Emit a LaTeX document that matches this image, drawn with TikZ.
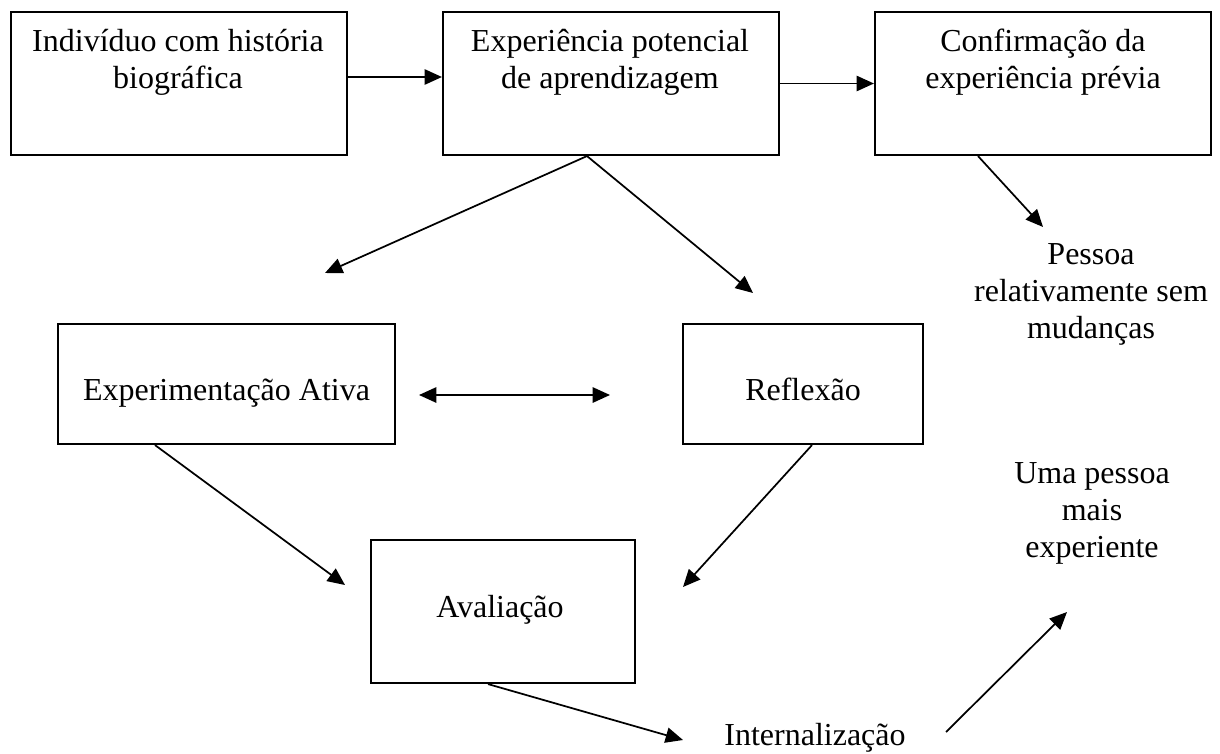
\documentclass[tikz,border=0pt]{standalone}
\usepackage{fontspec}
\setmainfont{Liberation Serif}
\usetikzlibrary{arrows.meta,calc}
\begin{document}
\begin{tikzpicture}[x=0.75pt,y=-0.75pt,
  box/.style={draw,line width=1.6pt,inner sep=0pt},
  txt/.style={font=\fontsize{24}{27.5}\selectfont,align=center,inner sep=0pt,anchor=base},
  arr/.style={line width=1.3pt,-{Triangle[length=13pt,width=11.5pt]}},
  darr/.style={line width=1.3pt,{Triangle[length=13pt,width=11.5pt]}-{Triangle[length=13pt,width=11.5pt]}}]
\useasboundingbox (0,0) rectangle (1220,753);
% boxes
\node[box,minimum width=252pt,minimum height=107.25pt] (b1) at (179,83.5) {};
\node[box,minimum width=252pt,minimum height=107.25pt] (b2) at (611,83.5) {};
\node[box,minimum width=252pt,minimum height=107.25pt] (b3) at (1043,83.5) {};
\node[box,minimum width=252.75pt,minimum height=90pt] (exp) at (226.5,384) {};
\node[box,minimum width=180pt,minimum height=90pt] (ref) at (803,384) {};
\node[box,minimum width=198pt,minimum height=107.25pt] (av) at (503,611.5) {};
% texts (base = last line's baseline)
\node[txt] (t1) at (178,88) {Indivíduo com história\\biográfica};
\node[txt] (t2) at (610,88) {Experiência potencial\\de aprendizagem};
\node[txt] (t3) at (1043,88) {Confirmação da\\experiência prévia};
\node[txt] (t4) at (226.5,400) {Experimentação Ativa};
\node[txt] (t5) at (803,400) {Reflexão};
\node[txt] (t6) at (500,617) {Avaliação};
\node[txt] (pes) at (1091,338) {Pessoa\\relativamente sem\\mudanças};
\node[txt] (uma) at (1092,557) {Uma pessoa\\mais\\experiente};
\node[txt] (int) at (815,745) {Internalização};
% free ends
\coordinate (c3) at (325,273);
\coordinate (c4) at (753,293);
\coordinate (c5) at (1043,227);
\coordinate (d1) at (419,395);
\coordinate (d2) at (610,395);
\coordinate (c7) at (345,585);
\coordinate (c8) at (683,587);
\coordinate (c9) at (683,740);
\coordinate (e1) at (946,732);
\coordinate (e2) at (1067,612);
% connectors
\draw[arr] ($(b1.east)+(0,-6.5)$) -- ($(b2.west)+(0,-6.5)$);
\draw[arr] (b2.east) -- (b3.west);
\draw[arr] ($(b2.south)+(-24,0)$) -- (c3);
\draw[arr] ($(b2.south)+(-24,0)$) -- (c4);
\draw[arr] ($(b3.south)+(-65,0)$) -- (c5);
\draw[darr] (d1) -- (d2);
\draw[arr] ($(exp.south)+(-71.5,0)$) -- (c7);
\draw[arr] ($(ref.south)+(9,0)$) -- (c8);
\draw[arr] ($(av.south)+(-15,0)$) -- (c9);
\draw[arr] (e1) -- (e2);
\end{tikzpicture}
\end{document}
